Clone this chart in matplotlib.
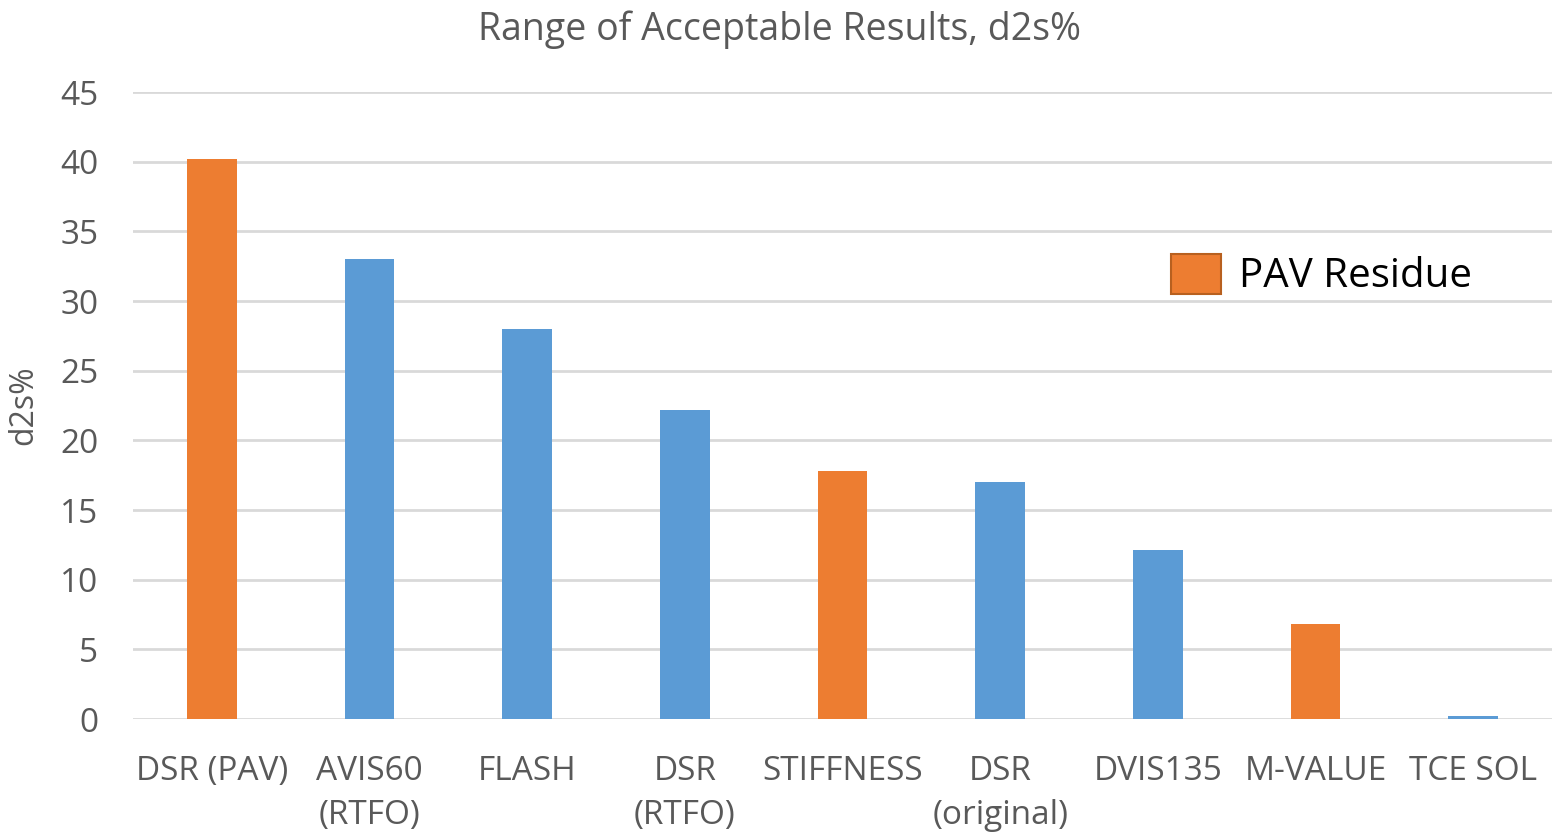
import matplotlib
matplotlib.use("Agg")
import matplotlib.pyplot as plt
from matplotlib.patches import Patch

categories = ["DSR (PAV)", "AVIS60\n(RTFO)", "FLASH", "DSR\n(RTFO)", "STIFFNESS",
              "DSR\n(original)", "DVIS135", "M-VALUE", "TCE SOL"]
values = [40.2, 33.0, 28.0, 22.2, 17.8, 17.0, 12.1, 6.8, 0.2]
pav_residue = [True, False, False, False, True, False, False, True, False]
yticks = [0, 5, 10, 15, 20, 25, 30, 35, 40, 45]

ORANGE = "#ED7D31"
BLUE = "#5B9BD5"
GRAY = "#595959"

plt.rcParams['font.family'] = ['Open Sans', 'DejaVu Sans']

fig = plt.figure(figsize=(15.52, 8.32), dpi=100)
ax = fig.add_axes([0.0857, 0.1358, 0.9143, 0.7536])

colors = [ORANGE if p else BLUE for p in pav_residue]
x = list(range(len(categories)))
ax.bar(x, values, width=0.316, color=colors, zorder=3)

ax.set_xlim(-0.5, len(categories) - 0.5)
ax.set_ylim(0, 45)
ax.set_yticks(yticks)
ax.set_yticklabels([str(t) for t in yticks])
ax.set_xticks(x)
ax.set_xticklabels(categories, linespacing=1.42)
ax.tick_params(axis='y', length=0, pad=25, labelsize=24, labelcolor=GRAY)
ax.tick_params(axis='x', length=0, pad=26, labelsize=24, labelcolor=GRAY)
ax.yaxis.grid(True, color="#D9D9D9", linewidth=2, zorder=0)
ax.set_axisbelow(True)
for s in ax.spines.values():
    s.set_visible(False)

ax.set_ylabel("d2s%", fontsize=23, color=GRAY, labelpad=14)
fig.text(0.502, 0.964, "Range of Acceptable Results, d2s%", ha='center', va='center',
         fontsize=27, color=GRAY)

handle = Patch(facecolor=ORANGE, edgecolor="#B8601F", linewidth=1.5)
ax.legend(handles=[handle], labels=["PAV Residue"], loc='center left',
          bbox_to_anchor=(0.731, 0.669), bbox_transform=fig.transFigure,
          frameon=False, fontsize=29, handlelength=1.25, handleheight=1.15,
          handletextpad=0.45, labelcolor='black')

fig.savefig("out.png", dpi=100)
